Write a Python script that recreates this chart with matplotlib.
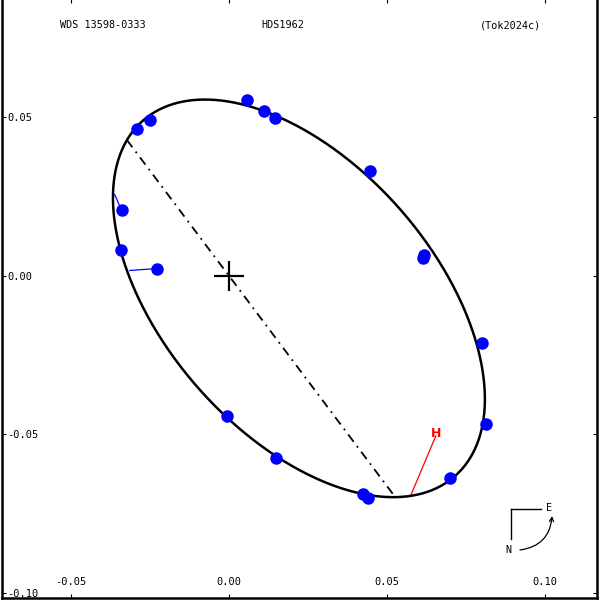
import numpy as np
import matplotlib
matplotlib.use('Agg')
import matplotlib.pyplot as plt

plt.rcParams['axes.unicode_minus'] = False

# observations (arcsec)
obs_x = [0.0057, 0.0111, 0.0146, -0.0250, -0.0291, 0.0446, -0.0339, -0.0342,
         0.0617, 0.0614, -0.0228, 0.0801, -0.0006, 0.0813, 0.0149, 0.0699,
         0.0424, 0.0440]
obs_y = [0.0554, 0.0519, 0.0497, 0.0491, 0.0462, 0.0329, 0.0206, 0.0079,
         0.0066, 0.0054, 0.0022, -0.0212, -0.0443, -0.0468, -0.0576, -0.0639,
         -0.0690, -0.0703]
# O-C residual lines: observed -> predicted
res_obs_x = [-0.0339, -0.0228]
res_obs_y = [0.0206, 0.0022]
res_pred_x = [-0.0361, -0.0313]
res_pred_y = [0.0256, 0.0016]
# Hipparcos measure and its predicted position
hip_x, hip_y = 0.0655, -0.0506
hip_pred_x, hip_pred_y = 0.0576, -0.0693
# apparent orbit ellipse
orb_cx, orb_cy = 0.0222, -0.0072
orb_a, orb_b = 0.0747, 0.0426
orb_ang = -48.6
node_ang = 127.0

x_ticks = [-0.05, 0.00, 0.05, 0.10]
y_ticks = [0.05, 0.00, -0.05, -0.10]
x_ticklabels = ['-0.05', '0.00', '0.05', '0.10']
y_ticklabels = ['0.05', '0.00', '-0.05', '-0.10']

fig = plt.figure(figsize=(6, 6), dpi=100)
ax = fig.add_axes([0.003, 0.004, 0.992, 0.998])
ax.set_xlim(-0.0718, 0.1165)
ax.set_ylim(-0.1016, 0.0873)

t = np.linspace(0, 2 * np.pi, 721)
th = np.radians(orb_ang)
ex = orb_cx + orb_a * np.cos(t) * np.cos(th) - orb_b * np.sin(t) * np.sin(th)
ey = orb_cy + orb_a * np.cos(t) * np.sin(th) + orb_b * np.sin(t) * np.cos(th)
ax.plot(ex, ey, color='black', lw=1.8, zorder=3)

# line of nodes through the primary
phi = np.radians(node_ang)
ux, uy = np.cos(phi), np.sin(phi)


def to_frame(px, py):
    dx, dy = px - orb_cx, py - orb_cy
    return dx * np.cos(th) + dy * np.sin(th), -dx * np.sin(th) + dy * np.cos(th)


p0 = to_frame(0.0, 0.0)
du = ux * np.cos(th) + uy * np.sin(th)
dv = -ux * np.sin(th) + uy * np.cos(th)
A = du**2 / orb_a**2 + dv**2 / orb_b**2
B = 2 * (p0[0] * du / orb_a**2 + p0[1] * dv / orb_b**2)
C = p0[0]**2 / orb_a**2 + p0[1]**2 / orb_b**2 - 1
s1 = (-B + np.sqrt(B * B - 4 * A * C)) / (2 * A)
s2 = (-B - np.sqrt(B * B - 4 * A * C)) / (2 * A)
ax.plot([s1 * ux, s2 * ux], [s1 * uy, s2 * uy], color='black', lw=1.3,
        linestyle=(0, (5, 3, 1, 3)), zorder=2)

# residual lines
for ox, oy, qx, qy in zip(res_obs_x, res_obs_y, res_pred_x, res_pred_y):
    ax.plot([ox, qx], [oy, qy], color='blue', lw=0.9, zorder=2)

ax.plot(obs_x, obs_y, 'o', color='#0000ff', markersize=8, mec='#0000ff', zorder=4)

# Hipparcos
ax.plot([hip_pred_x, hip_x], [hip_pred_y, hip_y], color='red', lw=0.9, zorder=2)
ax.text(hip_x, hip_y + 0.0008, 'H', color='red', fontsize=9, fontweight='bold',
        ha='center', va='center', family='DejaVu Sans', zorder=5)

# primary
ax.plot([0], [0], marker='+', color='black', markersize=22, mew=1.6, zorder=5)

ax.set_xticks(x_ticks)
ax.set_xticklabels(x_ticklabels)
ax.set_yticks(y_ticks)
ax.set_yticklabels(y_ticklabels)
ax.tick_params(direction='in', length=3, width=0.8, top=True, right=True,
               labelsize=7.5, colors='black')
ax.tick_params(axis='y', pad=-3.8)
ax.tick_params(axis='x', pad=-7.5)
for lab in ax.get_yticklabels():
    lab.set_horizontalalignment('left')
    lab.set_family('DejaVu Sans Mono')
for lab in ax.get_xticklabels():
    lab.set_verticalalignment('bottom')
    lab.set_family('DejaVu Sans Mono')
for sp in ax.spines.values():
    sp.set_linewidth(1.8)

mono = dict(family='DejaVu Sans Mono', fontsize=7.3, color='black')
fig.text(60 / 600, 1 - 25 / 600, 'WDS 13598-0333', ha='left', va='center', **mono)
fig.text(261 / 600, 1 - 25 / 600, 'HDS1962', ha='left', va='center', **mono)
fig.text(480 / 600, 1 - 25 / 600, '(Tok2024c)', ha='left', va='center', **mono)

# compass
fig.add_artist(plt.Line2D([511 / 600, 541 / 600], [1 - 509 / 600, 1 - 509 / 600],
                          color='black', lw=1, transform=fig.transFigure))
fig.add_artist(plt.Line2D([511 / 600, 511 / 600], [1 - 509 / 600, 1 - 539 / 600],
                          color='black', lw=1, transform=fig.transFigure))
fig.text(549 / 600, 1 - 508 / 600, 'E', ha='center', va='center', **mono)
fig.text(508 / 600, 1 - 550 / 600, 'N', ha='center', va='center', **mono)
ax.annotate('', xy=(552 / 600, 1 - 516 / 600), xytext=(520 / 600, 1 - 550 / 600),
            xycoords='figure fraction', textcoords='figure fraction',
            arrowprops=dict(arrowstyle='->,head_length=0.3,head_width=0.15',
                            connectionstyle='arc3,rad=0.4', lw=0.9, color='black',
                            shrinkA=0, shrinkB=0))

fig.savefig('out.png', dpi=100)
